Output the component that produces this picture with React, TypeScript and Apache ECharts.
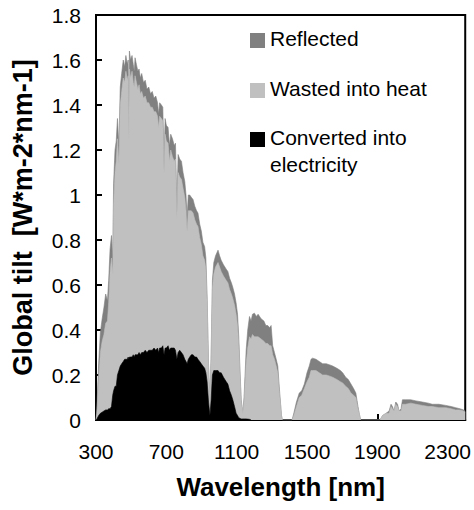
import React, { useEffect, useRef } from "react";
import * as echarts from "echarts";

// Upper edge of each stacked band, [wavelength nm, W*m-2*nm-1]
const reflectedTop: [number, number][] = [
  [300, 0], [305, 0.05], [315, 0.25], [325, 0.39], [335, 0.45], [345, 0.5], [355, 0.56], [365, 0.53],
  [372, 0.62], [380, 0.76], [388, 0.82], [395, 0.72], [400, 1.05], [408, 1.2], [415, 1.24], [422, 1.34],
  [430, 1.22], [438, 1.48], [446, 1.54], [455, 1.6], [463, 1.57], [470, 1.62], [478, 1.58], [483, 1.6],
  [486, 1.3], [490, 1.64], [497, 1.6], [505, 1.62], [512, 1.58], [518, 1.55], [522, 1.61], [530, 1.58],
  [538, 1.55], [545, 1.56], [552, 1.52], [560, 1.54], [570, 1.5], [580, 1.51], [590, 1.47], [600, 1.48],
  [610, 1.45], [620, 1.46], [630, 1.43], [640, 1.44], [650, 1.41], [656, 1.36], [662, 1.41], [672, 1.4],
  [680, 1.39], [687, 1.15], [693, 1.34], [700, 1.31], [710, 1.3], [718, 1.22], [725, 1.27], [735, 1.25],
  [745, 1.22], [752, 1.23], [760, 0.95], [767, 1.18], [776, 1.16], [786, 1.15], [795, 1.1], [805, 1.06],
  [812, 1.0], [818, 0.9], [825, 1.0], [833, 1.0], [842, 0.99], [852, 0.98], [862, 0.95], [872, 0.93],
  [880, 0.92], [890, 0.87], [899, 0.84], [908, 0.79], [918, 0.77], [925, 0.72], [932, 0.55], [940, 0.25],
  [948, 0.08], [955, 0.3], [962, 0.62], [970, 0.7], [980, 0.73], [994, 0.755], [1003, 0.73], [1012, 0.71],
  [1025, 0.69], [1041, 0.67], [1050, 0.66], [1060, 0.63], [1070, 0.61], [1078, 0.59], [1088, 0.56],
  [1097, 0.52], [1105, 0.47], [1112, 0.37], [1120, 0.2], [1126, 0.09], [1135, 0.03], [1142, 0.1],
  [1154, 0.31], [1163, 0.4], [1173, 0.46], [1182, 0.44], [1190, 0.47], [1201, 0.475], [1212, 0.46],
  [1222, 0.47], [1239, 0.45], [1255, 0.44], [1266, 0.42], [1277, 0.42], [1288, 0.41], [1296, 0.42],
  [1305, 0.33], [1315, 0.3], [1325, 0.27], [1334, 0.24], [1342, 0.15], [1347, 0.1], [1355, 0.02],
  [1360, 0], [1415, 0], [1425, 0.03], [1440, 0.08], [1456, 0.12], [1470, 0.13], [1485, 0.16], [1500, 0.21],
  [1513, 0.24], [1523, 0.27], [1532, 0.275], [1551, 0.27], [1570, 0.26], [1589, 0.25], [1610, 0.25],
  [1630, 0.245], [1646, 0.24], [1670, 0.23], [1690, 0.22], [1703, 0.21], [1720, 0.19], [1735, 0.18],
  [1750, 0.16], [1765, 0.14], [1778, 0.12], [1790, 0.06], [1797, 0.03], [1805, 0], [1915, 0], [1930, 0.02],
  [1950, 0.03], [1967, 0.04], [1978, 0.07], [1986, 0.06], [1995, 0.04], [2005, 0.08], [2015, 0.07],
  [2024, 0.04], [2035, 0.05], [2043, 0.09], [2062, 0.09], [2090, 0.09], [2120, 0.085], [2156, 0.08],
  [2190, 0.075], [2213, 0.07], [2250, 0.07], [2289, 0.065], [2320, 0.06], [2345, 0.055], [2370, 0.05],
  [2390, 0.045], [2400, 0.04],
];

const heatTop: [number, number][] = [
  [300, 0], [305, 0.03], [315, 0.18], [325, 0.3], [335, 0.35], [345, 0.38], [355, 0.43], [365, 0.44],
  [372, 0.52], [380, 0.66], [388, 0.72], [395, 0.65], [400, 0.95], [408, 1.1], [415, 1.15], [422, 1.25],
  [430, 1.14], [438, 1.4], [446, 1.46], [455, 1.52], [463, 1.5], [470, 1.55], [478, 1.51], [483, 1.53],
  [486, 1.25], [490, 1.56], [497, 1.52], [505, 1.55], [512, 1.5], [518, 1.48], [522, 1.53], [530, 1.5],
  [538, 1.47], [545, 1.49], [552, 1.45], [560, 1.46], [570, 1.43], [580, 1.44], [590, 1.41], [600, 1.41],
  [610, 1.39], [620, 1.39], [630, 1.37], [640, 1.37], [650, 1.35], [656, 1.3], [662, 1.35], [672, 1.34],
  [680, 1.33], [687, 1.1], [693, 1.27], [700, 1.24], [710, 1.23], [718, 1.15], [725, 1.2], [735, 1.17],
  [745, 1.15], [752, 1.16], [760, 0.9], [767, 1.1], [776, 1.08], [786, 1.07], [795, 1.03], [805, 0.99],
  [812, 0.93], [818, 0.84], [825, 0.93], [833, 0.93], [842, 0.93], [852, 0.92], [862, 0.89], [872, 0.87],
  [880, 0.86], [890, 0.81], [899, 0.78], [908, 0.73], [918, 0.71], [925, 0.67], [932, 0.52], [940, 0.23],
  [948, 0.07], [955, 0.28], [962, 0.58], [970, 0.65], [980, 0.68], [994, 0.7], [1003, 0.68], [1012, 0.66],
  [1025, 0.64], [1041, 0.62], [1050, 0.61], [1060, 0.58], [1070, 0.56], [1078, 0.54], [1088, 0.51],
  [1097, 0.47], [1105, 0.42], [1112, 0.33], [1120, 0.18], [1126, 0.08], [1135, 0.03], [1142, 0.08],
  [1154, 0.25], [1163, 0.32], [1173, 0.37], [1182, 0.36], [1190, 0.38], [1201, 0.37], [1212, 0.37],
  [1222, 0.37], [1239, 0.36], [1255, 0.35], [1266, 0.34], [1277, 0.34], [1288, 0.33], [1296, 0.33],
  [1305, 0.29], [1315, 0.27], [1325, 0.24], [1334, 0.21], [1342, 0.13], [1347, 0.09], [1355, 0.02],
  [1360, 0], [1415, 0], [1425, 0.02], [1440, 0.06], [1456, 0.1], [1470, 0.11], [1485, 0.14], [1500, 0.17],
  [1513, 0.19], [1523, 0.22], [1532, 0.22], [1551, 0.22], [1570, 0.21], [1589, 0.2], [1610, 0.2],
  [1630, 0.195], [1646, 0.19], [1670, 0.18], [1690, 0.17], [1703, 0.165], [1720, 0.15], [1735, 0.14],
  [1750, 0.12], [1765, 0.11], [1778, 0.1], [1790, 0.05], [1797, 0.03], [1805, 0], [1915, 0], [1930, 0.02],
  [1950, 0.03], [1967, 0.03], [1978, 0.06], [1986, 0.05], [1995, 0.04], [2005, 0.07], [2015, 0.06],
  [2024, 0.04], [2035, 0.04], [2043, 0.07], [2062, 0.07], [2090, 0.075], [2120, 0.07], [2156, 0.065],
  [2190, 0.06], [2213, 0.06], [2250, 0.055], [2289, 0.055], [2320, 0.05], [2345, 0.045], [2370, 0.045],
  [2390, 0.04], [2400, 0.035],
];

const electricityTop: [number, number][] = [
  [300, 0], [305, 0.005], [315, 0.02], [325, 0.03], [335, 0.035], [345, 0.04], [355, 0.045], [365, 0.045],
  [372, 0.05], [380, 0.05], [388, 0.06], [395, 0.11], [400, 0.13], [408, 0.15], [415, 0.15], [422, 0.2],
  [430, 0.22], [438, 0.24], [446, 0.25], [455, 0.26], [463, 0.27], [470, 0.27], [478, 0.27], [483, 0.28],
  [486, 0.27], [490, 0.28], [497, 0.28], [505, 0.28], [512, 0.29], [518, 0.28], [522, 0.29], [530, 0.29],
  [538, 0.29], [545, 0.3], [552, 0.29], [560, 0.3], [570, 0.3], [580, 0.31], [590, 0.3], [600, 0.31],
  [610, 0.31], [620, 0.31], [630, 0.32], [640, 0.31], [650, 0.32], [656, 0.3], [662, 0.32], [672, 0.32],
  [680, 0.33], [687, 0.29], [693, 0.32], [700, 0.32], [710, 0.33], [718, 0.31], [725, 0.32], [735, 0.32],
  [745, 0.32], [752, 0.31], [760, 0.27], [767, 0.3], [776, 0.31], [786, 0.3], [795, 0.29], [805, 0.27],
  [812, 0.26], [818, 0.25], [825, 0.27], [833, 0.28], [842, 0.29], [852, 0.29], [862, 0.28], [872, 0.28],
  [880, 0.27], [890, 0.26], [899, 0.25], [908, 0.24], [918, 0.23], [925, 0.21], [932, 0.17], [940, 0.08],
  [948, 0.02], [955, 0.09], [962, 0.2], [970, 0.22], [980, 0.22], [994, 0.22], [1003, 0.21], [1012, 0.21],
  [1025, 0.19], [1041, 0.17], [1050, 0.16], [1060, 0.13], [1070, 0.11], [1078, 0.09], [1088, 0.06],
  [1097, 0.03], [1105, 0.02], [1112, 0.01], [1120, 0.007], [1126, 0.005], [1135, 0.005], [1142, 0.005],
  [1154, 0.005], [1163, 0.004], [1173, 0.003], [1182, 0],
];

const xTickValues = [300, 700, 1100, 1500, 1900, 2300];
const legendNames = ["Reflected", "Wasted into heat", "Converted into\nelectricity"];
const bandColors = ["#808080", "#c0c0c0", "#000000"];

const FONT = "Arial, 'Liberation Sans', sans-serif";

export default function App() {
  const ref = useRef<HTMLDivElement>(null);
  useEffect(() => {
    if (!ref.current) return;
    const chart = echarts.init(ref.current, null, { renderer: "svg" });
    const bands = [reflectedTop, heatTop, electricityTop];
    const legendTops = [33, 83, 132];
    const legendGraphics: any[] = [];
    legendNames.forEach((name, i) => {
      legendGraphics.push({
        type: "rect",
        left: 250,
        top: legendTops[i],
        shape: { width: 15, height: 15 },
        style: { fill: bandColors[i] },
      });
      legendGraphics.push({
        type: "text",
        left: 270,
        top: legendTops[i] - 8,
        style: {
          text: name,
          fill: "#000",
          font: `21px ${FONT}`,
          lineHeight: 27,
        },
      });
    });
    chart.setOption({
      animation: false,
      backgroundColor: "#fff",
      grid: {
        left: 96,
        right: 6,
        top: 15,
        bottom: 90,
        show: true,
        borderColor: "#000",
        borderWidth: 2,
        backgroundColor: "transparent",
      },
      xAxis: {
        type: "value",
        min: 300,
        max: 2400,
        name: "Wavelength [nm]",
        nameLocation: "middle",
        nameGap: 54,
        nameTextStyle: { fontFamily: FONT, fontSize: 26, fontWeight: "bold", color: "#000" },
        axisLine: { show: true, lineStyle: { color: "#000", width: 2 } },
        axisTick: { show: true, inside: true, length: 6, lineStyle: { color: "#000", width: 2 }, customValues: xTickValues },
        axisLabel: {
          fontFamily: FONT,
          fontSize: 21,
          color: "#000",
          margin: 21,
          customValues: xTickValues,
          hideOverlap: false,
          formatter: (v: number) => String(v),
        },
        splitLine: { show: false },
      },
      yAxis: {
        type: "value",
        min: 0,
        max: 1.8,
        interval: 0.2,
        name: "Global tilt  [W*m-2*nm-1]",
        nameLocation: "middle",
        nameGap: 60,
        nameTextStyle: { fontFamily: FONT, fontSize: 27, fontWeight: "bold", color: "#000" },
        axisLine: { show: true, lineStyle: { color: "#000", width: 2 } },
        axisTick: { show: true, inside: true, length: 6, lineStyle: { color: "#000", width: 2 } },
        axisLabel: { fontFamily: FONT, fontSize: 21, color: "#000", margin: 15 },
        splitLine: { show: false },
      },
      series: bands.map((data, i) => ({
        name: legendNames[i],
        type: "line",
        data,
        showSymbol: false,
        symbol: "none",
        lineStyle: { width: 0.6, color: bandColors[i] },
        areaStyle: { color: bandColors[i], opacity: 1 },
        z: 2 + i,
      })),
      graphic: legendGraphics,
    });
    return () => chart.dispose();
  }, []);
  return <div ref={ref} style={{ width: 474, height: 510, position: "absolute", left: 0, top: 0 }} />;
}
